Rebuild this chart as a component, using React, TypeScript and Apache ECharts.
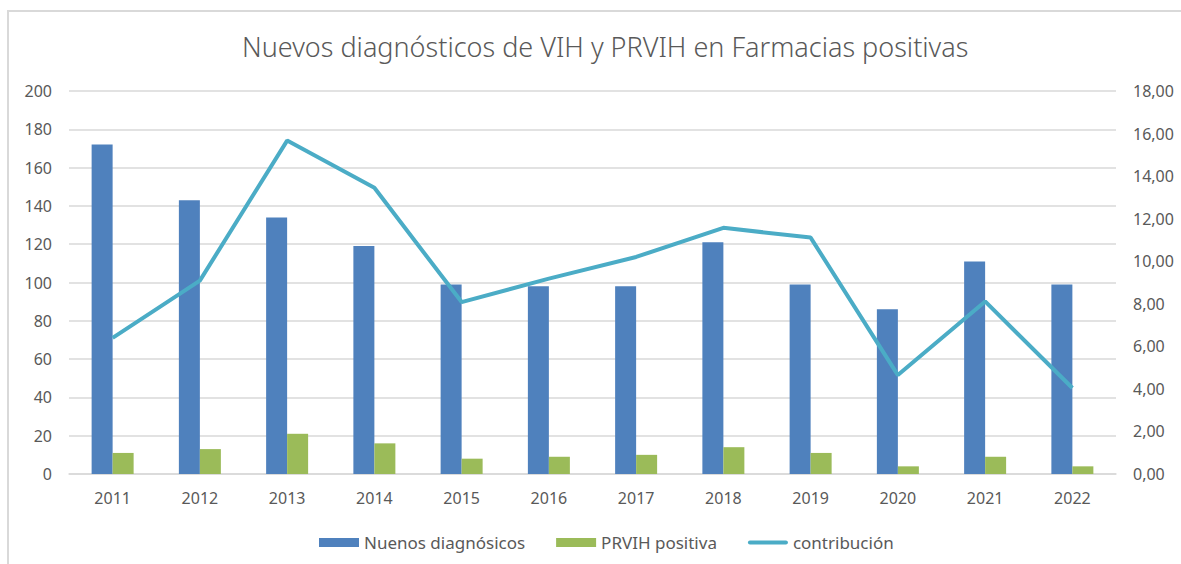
import React, { useEffect, useRef } from "react";
import * as echarts from "echarts";

const titleText = "Nuevos diagnósticos de VIH y PRVIH en Farmacias positivas";
const years = ["2011", "2012", "2013", "2014", "2015", "2016", "2017", "2018", "2019", "2020", "2021", "2022"];
const nuevos = [172, 143, 134, 119, 99, 98, 98, 121, 99, 86, 111, 99];
const prvih = [11, 13, 21, 16, 8, 9, 10, 14, 11, 4, 9, 4];
const contribucion = [6.4, 9.09, 15.67, 13.45, 8.08, 9.18, 10.2, 11.57, 11.11, 4.65, 8.11, 4.04];
const seriesNames = ["Nuenos diagnósicos", "PRVIH positiva", "contribución"];

const FONT = "'Noto Sans', 'Open Sans', sans-serif";
const TXT = "#595959";
const GRID = "#d9d9d9";

export default function App() {
  const ref = useRef<HTMLDivElement>(null);
  useEffect(() => {
    if (!ref.current) return;
    const chart = echarts.init(ref.current, null, { renderer: "svg" });
    chart.setOption({
      animation: false,
      textStyle: { fontFamily: FONT },
      title: {
        text: titleText,
        left: 237,
        top: 28,
        textStyle: { fontFamily: FONT, fontSize: 27, fontWeight: 300, color: TXT },
      },
      grid: { left: 69, right: 65, top: 91, bottom: 90, containLabel: false },
      legend: {
        bottom: 8,
        left: 314,
        itemWidth: 40,
        itemHeight: 9,
        itemGap: 31,
        textStyle: { fontFamily: FONT, fontSize: 17, color: TXT },
        data: [
          { name: seriesNames[0], icon: "rect" },
          { name: seriesNames[1], icon: "rect" },
          { name: seriesNames[2], icon: "path://M2,0h36a2,2 0 0 1 0,4h-36a2,2 0 0 1 0,-4z" },
        ],
      },
      xAxis: {
        type: "category",
        data: years,
        axisLine: { show: true, lineStyle: { color: GRID, width: 1.5 } },
        axisTick: { show: false },
        axisLabel: { color: TXT, fontSize: 16, fontFamily: FONT, margin: 16 },
      },
      yAxis: [
        {
          type: "value",
          min: 0,
          max: 200,
          interval: 20,
          axisLine: { show: false },
          axisTick: { show: false },
          splitLine: { lineStyle: { color: GRID, width: 1.5 } },
          axisLabel: { color: TXT, fontSize: 16, fontFamily: FONT, margin: 17 },
        },
        {
          type: "value",
          min: 0,
          max: 18,
          interval: 2,
          position: "right",
          axisLine: { show: false },
          axisTick: { show: false },
          splitLine: { show: false },
          axisLabel: {
            color: TXT,
            fontSize: 16,
            fontFamily: FONT,
            margin: 17,
            formatter: (v: number) => v.toFixed(2).replace(".", ","),
          },
        },
      ],
      series: [
        {
          name: seriesNames[0],
          type: "bar",
          data: nuevos,
          barWidth: 21,
          barGap: "0%",
          itemStyle: { color: "#4f81bd" },
        },
        {
          name: seriesNames[1],
          type: "bar",
          data: prvih,
          barWidth: 21,
          barGap: "0%",
          itemStyle: { color: "#9bbb59" },
        },
        {
          name: seriesNames[2],
          type: "line",
          yAxisIndex: 1,
          data: contribucion,
          symbol: "none",
          showSymbol: false,
          lineStyle: { color: "#4bacc6", width: 4 },
          itemStyle: { color: "#4bacc6" },
        },
      ],
    });
    return () => chart.dispose();
  }, []);
  return (
    <div style={{ position: "absolute", left: 0, top: 0, width: 1181, height: 564, overflow: "hidden", background: "#fff" }}>
      <div
        style={{
          position: "absolute",
          left: 7,
          top: 10,
          width: 1300,
          height: 700,
          borderLeft: "2px solid #d9d9d9",
          borderTop: "2px solid #d9d9d9",
        }}
      />
      <div ref={ref} style={{ position: "absolute", left: 0, top: 0, width: 1181, height: 564 }} />
    </div>
  );
}
